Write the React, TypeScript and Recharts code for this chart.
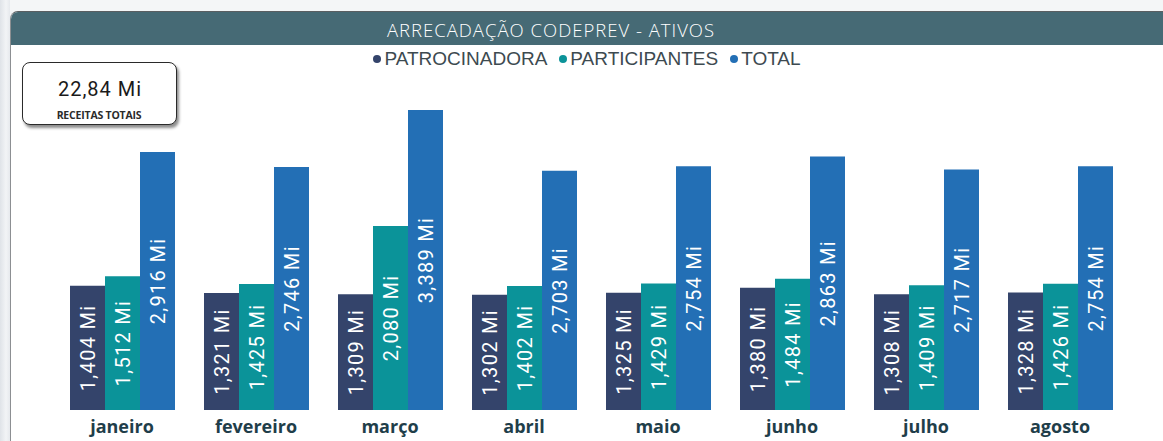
import { BarChart, Bar, XAxis, YAxis, LabelList } from "recharts";

const months = ["janeiro", "fevereiro", "março", "abril", "maio", "junho", "julho", "agosto"];
const patrocinadora = [1.404, 1.321, 1.309, 1.302, 1.325, 1.38, 1.308, 1.328];
const participantes = [1.512, 1.425, 2.08, 1.402, 1.429, 1.484, 1.409, 1.426];
const total = [2.916, 2.746, 3.389, 2.703, 2.754, 2.863, 2.717, 2.754];

const series = [
  { key: "patrocinadora", name: "PATROCINADORA", color: "#34446b" },
  { key: "participantes", name: "PARTICIPANTES", color: "#0b9399" },
  { key: "total", name: "TOTAL", color: "#236fb5" },
];

const data = months.map((m, i) => ({
  month: m,
  patrocinadora: patrocinadora[i],
  participantes: participantes[i],
  total: total[i],
}));

const receitasTotais = total.reduce((a, b) => a + b, 0);

const fmt = (v: number, d: number) => v.toFixed(d).replace(".", ",") + " Mi";

const BarValue = (props: any) => {
  const { x, y, width, height, value } = props;
  const cx = x + width / 2;
  const cy = y + height / 2;
  return (
    <text
      x={cx}
      y={cy}
      dy="0.36em"
      transform={`rotate(-90 ${cx} ${cy})`}
      textAnchor="middle"
      fill="#ffffff"
      fontFamily="Roboto, sans-serif"
      fontSize={20}
      letterSpacing={1.3}
    >
      {fmt(value, 3)}
    </text>
  );
};

const MonthTick = ({ x, y, payload }: any) => (
  <text
    x={x}
    y={y}
    dy={23}
    textAnchor="middle"
    fill="#1f3e4a"
    fontFamily="'Open Sans', sans-serif"
    fontWeight={700}
    fontSize={18}
  >
    {payload.value}
  </text>
);

export default function App() {
  return (
    <div style={{ position: "absolute", left: 0, top: 0, width: 1163, height: 441, overflow: "hidden", background: "#f4f6f7" }}>
      {/* left strip of the page */}
      <div style={{ position: "absolute", left: 0, top: 0, width: 10, height: 441, background: "linear-gradient(90deg, #dfe3e8, #f2f4f6 60%, #e6e9ed)" }} />
      {/* card */}
      <div
        style={{
          position: "absolute",
          left: 10,
          top: 11,
          width: 1170,
          height: 440,
          background: "#ffffff",
          borderLeft: "1px solid #8c8f92",
          borderTop: "1px solid #5a5f62",
          borderTopLeftRadius: 8,
          overflow: "hidden",
        }}
      >
        <div style={{ height: 33, background: "#466a75" }} />
      </div>

      <svg width={1163} height={80} style={{ position: "absolute", left: 0, top: 0 }}>
        <text
          x={551}
          y={37}
          textAnchor="middle"
          fill="#ffffff"
          fontFamily="'Open Sans', sans-serif"
          fontWeight={300}
          fontSize={18.5}
          letterSpacing={1}
        >
          ARRECADAÇÃO CODEPREV - ATIVOS
        </text>
      </svg>

      {/* legend */}
      <div
        style={{
          position: "absolute",
          left: 0,
          top: 48,
          width: 1174,
          display: "flex",
          justifyContent: "center",
          gap: 12,
          fontFamily: "'Liberation Sans', Arial, sans-serif",
          fontSize: 19,
          lineHeight: "21px",
          color: "#3d4a50",
        }}
      >
        {series.map((s) => (
          <div key={s.key} style={{ display: "flex", alignItems: "center", gap: 3 }}>
            <span style={{ width: 8, height: 8, borderRadius: 4, background: s.color, display: "inline-block" }} />
            <span>{s.name}</span>
          </div>
        ))}
      </div>

      {/* KPI card */}
      <div
        style={{
          position: "absolute",
          left: 22,
          top: 62,
          width: 155,
          height: 63,
          boxSizing: "border-box",
          border: "1px solid #2a2a2a",
          borderRadius: 8,
          background: "#ffffff",
          boxShadow: "2px 3px 3px rgba(0,0,0,0.45)",
        }}
      >
        <svg width={153} height={61} style={{ display: "block" }}>
          <text x={77} y={33} textAnchor="middle" fill="#1a1a1a" fontFamily="Roboto, sans-serif" fontSize={20} letterSpacing={1}>
            {fmt(receitasTotais, 2)}
          </text>
          <text x={76} y={55.5} textAnchor="middle" fill="#2b2b2b" fontFamily="'Open Sans', sans-serif" fontWeight={700} fontSize={10.5} letterSpacing={-0.2}>
            RECEITAS TOTAIS
          </text>
        </svg>
      </div>

      <div style={{ position: "absolute", left: 0, top: 0 }}>
        <BarChart width={1163} height={441} data={data} margin={{ top: 56, right: 36, left: 55, bottom: 0 }} barGap={0} barSize={35}>
          <XAxis dataKey="month" axisLine={false} tickLine={false} tickSize={0} tickMargin={0} interval={0} height={31} tick={<MonthTick />} />
          <YAxis hide domain={[0, 4]} />
          {series.map((s) => (
            <Bar key={s.key} dataKey={s.key} name={s.name} fill={s.color} isAnimationActive={false}>
              <LabelList dataKey={s.key} content={<BarValue />} />
            </Bar>
          ))}
        </BarChart>
      </div>
    </div>
  );
}
